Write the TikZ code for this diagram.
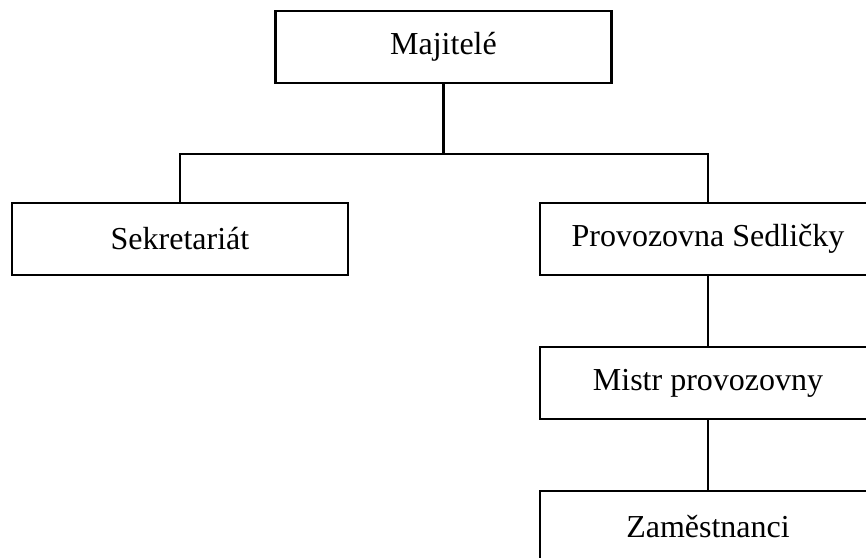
\documentclass[tikz,border=0pt]{standalone}
\usepackage{fontspec}
\setmainfont{Liberation Serif}
\begin{document}
\begin{tikzpicture}[x=1pt,y=-1pt,
  orgbox/.style={draw, line width=2.2pt, rectangle, minimum width=336pt, minimum height=72pt, inner sep=0pt, font=\fontsize{32}{38}\selectfont},
  conn/.style={line width=2.2pt}]
\useasboundingbox (0,0) rectangle (866,557);
\clip (0,0) rectangle (866,557);
\node[orgbox] (maj) at (443.5,47) {Majitelé};
\node[orgbox] (sek) at (180,239) {Sekretariát};
\node[orgbox] (prov) at (708,239) {Provozovna Sedličky};
\node[orgbox] (mistr) at (708,383) {Mistr provozovny};
\node[orgbox] (zam) at (708,527) {Zaměstnanci};
\coordinate (bus) at (443.5,154);
\draw[conn] (maj.south) -- (bus);
\draw[conn] (sek.north) |- (bus) -| (prov.north);
\draw[conn] (prov.south) -- (mistr.north);
\draw[conn] (mistr.south) -- (zam.north);
\end{tikzpicture}
\end{document}
